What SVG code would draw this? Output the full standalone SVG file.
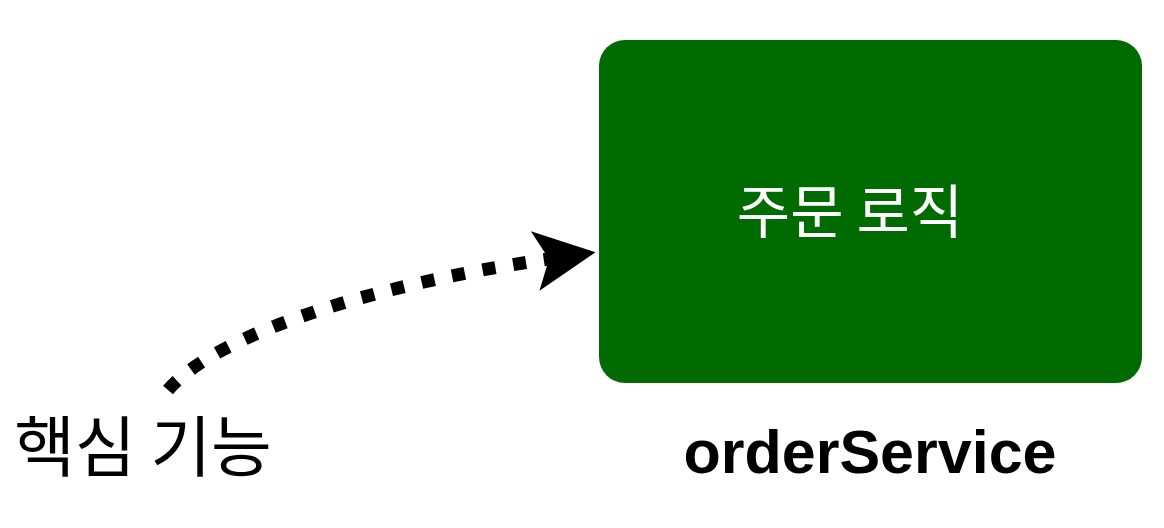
<svg xmlns="http://www.w3.org/2000/svg" width="1164" height="528" viewBox="0 0 1164 528">
  <style>
    .kr { font-family: "Noto Sans CJK KR", "Noto Sans", sans-serif; }
    .box { fill: #006b00; }
    .conn { fill: none; stroke: #000; stroke-width: 13; stroke-dasharray: 13 18; }
  </style>
  <defs>
    <marker id="arrow" markerUnits="userSpaceOnUse" viewBox="-70 -35 75 70" markerWidth="75" markerHeight="70" refX="-47" refY="0" orient="auto" overflow="visible">
      <path d="M0,0 L-61,-30 L-47,0 L-61,30 Z" fill="#000"/>
    </marker>
  </defs>
  <rect width="1164" height="528" fill="#fff"/>
  <g id="node-order">
    <rect class="box" x="599" y="40" width="543" height="343" rx="26" ry="26"/>
    <text class="kr" x="850" y="233" font-size="58" fill="#fff" text-anchor="middle">주문 로직</text>
  </g>
  <g id="label-orderService">
    <text x="870" y="473" font-family="Liberation Sans, Arial, sans-serif" font-weight="bold" font-size="61" fill="#000" text-anchor="middle">orderService</text>
  </g>
  <g id="label-core">
    <text class="kr" x="143" y="471" font-size="66" fill="#000" text-anchor="middle">핵심 기능</text>
  </g>
  <g id="connectors">
    <path class="conn" d="M168,390 C220,330 390,282 549,259" marker-end="url(#arrow)"/>
  </g>
</svg>
